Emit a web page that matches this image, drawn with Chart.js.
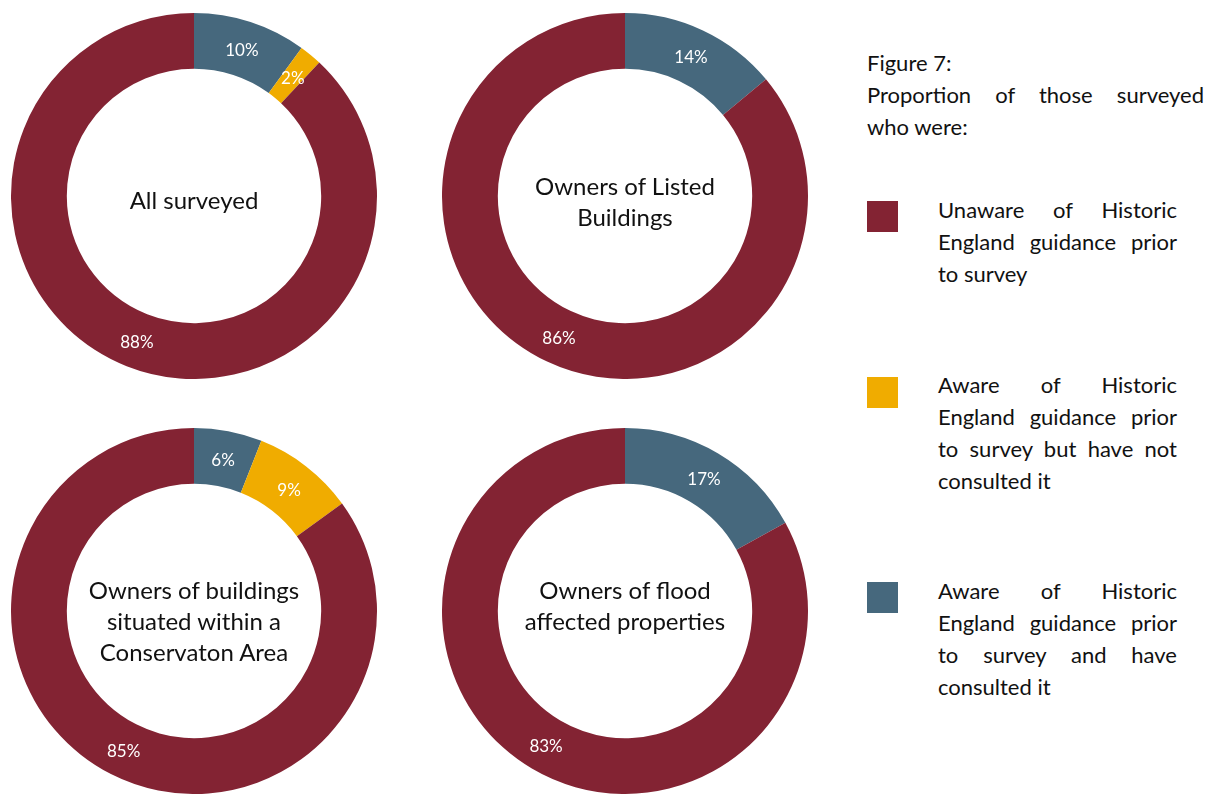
<!DOCTYPE html>
<html>
<head>
<meta charset="utf-8">
<script src="https://cdn.jsdelivr.net/npm/chart.js@4"></script>
<style>
body { margin: 0; background: #fff; font-family: Lato, "Open Sans", sans-serif; color: #111; }
#wrap { position: relative; width: 1215px; height: 794px; overflow: hidden; }
.pie { position: absolute; width: 366px; height: 366px; }
.centre { position: absolute; width: 366px; height: 366px; display: flex; align-items: center; justify-content: center; text-align: center; font-size: 24px; line-height: 31px; pointer-events: none; }
#side { position: absolute; left: 867px; top: 47px; width: 337px; font-size: 22px; line-height: 32px; }
#side .just { text-align: justify; text-align-last: justify; }
.item { position: absolute; left: 0; width: 337px; }
.swatch { position: absolute; left: 0; width: 31px; height: 31px; }
.item .txt { position: absolute; left: 71px; width: 239px; text-align: justify; text-align-last: left; }
</style>
</head>
<body>
<div id="wrap">
  <canvas id="c0" class="pie" style="left:11px;top:13px"></canvas>
  <canvas id="c1" class="pie" style="left:442px;top:13px"></canvas>
  <canvas id="c2" class="pie" style="left:11px;top:428px"></canvas>
  <canvas id="c3" class="pie" style="left:442px;top:428px"></canvas>
  <div class="centre" style="left:11px;top:16px">All surveyed</div>
  <div class="centre" style="left:442px;top:18px">Owners of Listed<br>Buildings</div>
  <div class="centre" style="left:11px;top:437px">Owners of buildings<br>situated within a<br>Conservaton Area</div>
  <div class="centre" style="left:442px;top:422px">Owners of flood<br>affected properties</div>
  <div id="side">
    <div>Figure 7:</div>
    <div class="just">Proportion of those surveyed</div>
    <div>who were:</div>
    <div class="item" style="top:147px"><div class="swatch" style="background:#832333;top:7px"></div><div class="txt">Unaware of Historic England guidance prior to survey</div></div>
    <div class="item" style="top:322px"><div class="swatch" style="background:#f0ac00;top:8px"></div><div class="txt">Aware of Historic England guidance prior to survey but have not consulted it</div></div>
    <div class="item" style="top:528px"><div class="swatch" style="background:#46687d;top:7px"></div><div class="txt">Aware of Historic England guidance prior to survey and have consulted it</div></div>
  </div>
</div>
<script>
// segment order: consulted, aware not consulted, unaware (clockwise from top)
var LABELS = ['Aware and consulted', 'Aware, not consulted', 'Unaware'];
var COLORS = ['#46687d', '#f0ac00', '#832333'];

var allSurveyed = [10, 2, 88];
var listedOwners = [14, 0, 86];
var conservationOwners = [6, 9, 85];
var floodOwners = [17, 0, 83];

var percentLabels = {
    id: 'percentLabels',
    afterDatasetsDraw: function(chart) {
        var ctx = chart.ctx;
        var data = chart.data.datasets[0].data;
        ctx.save();
        ctx.fillStyle = '#fff';
        ctx.font = '17px Lato, "Open Sans", sans-serif';
        ctx.textAlign = 'center';
        ctx.textBaseline = 'middle';
        chart.getDatasetMeta(0).data.forEach(function(arc, i) {
            if (!data[i]) return;
            var p = arc.tooltipPosition();
            ctx.fillText(data[i] + '%', p.x, p.y + 2);
        });
        ctx.restore();
    }
};

function makePie(id, values) {
    new Chart(document.getElementById(id), {
        type: 'doughnut',
        data: {
            labels: LABELS,
            datasets: [{
                data: values,
                backgroundColor: COLORS,
                borderWidth: 0
            }]
        },
        options: {
            responsive: false,
            animation: false,
            cutout: '69.5%',
            plugins: { legend: { display: false }, tooltip: { enabled: false } }
        },
        plugins: [percentLabels]
    });
}

makePie('c0', allSurveyed);
makePie('c1', listedOwners);
makePie('c2', conservationOwners);
makePie('c3', floodOwners);
</script>
</body>
</html>
